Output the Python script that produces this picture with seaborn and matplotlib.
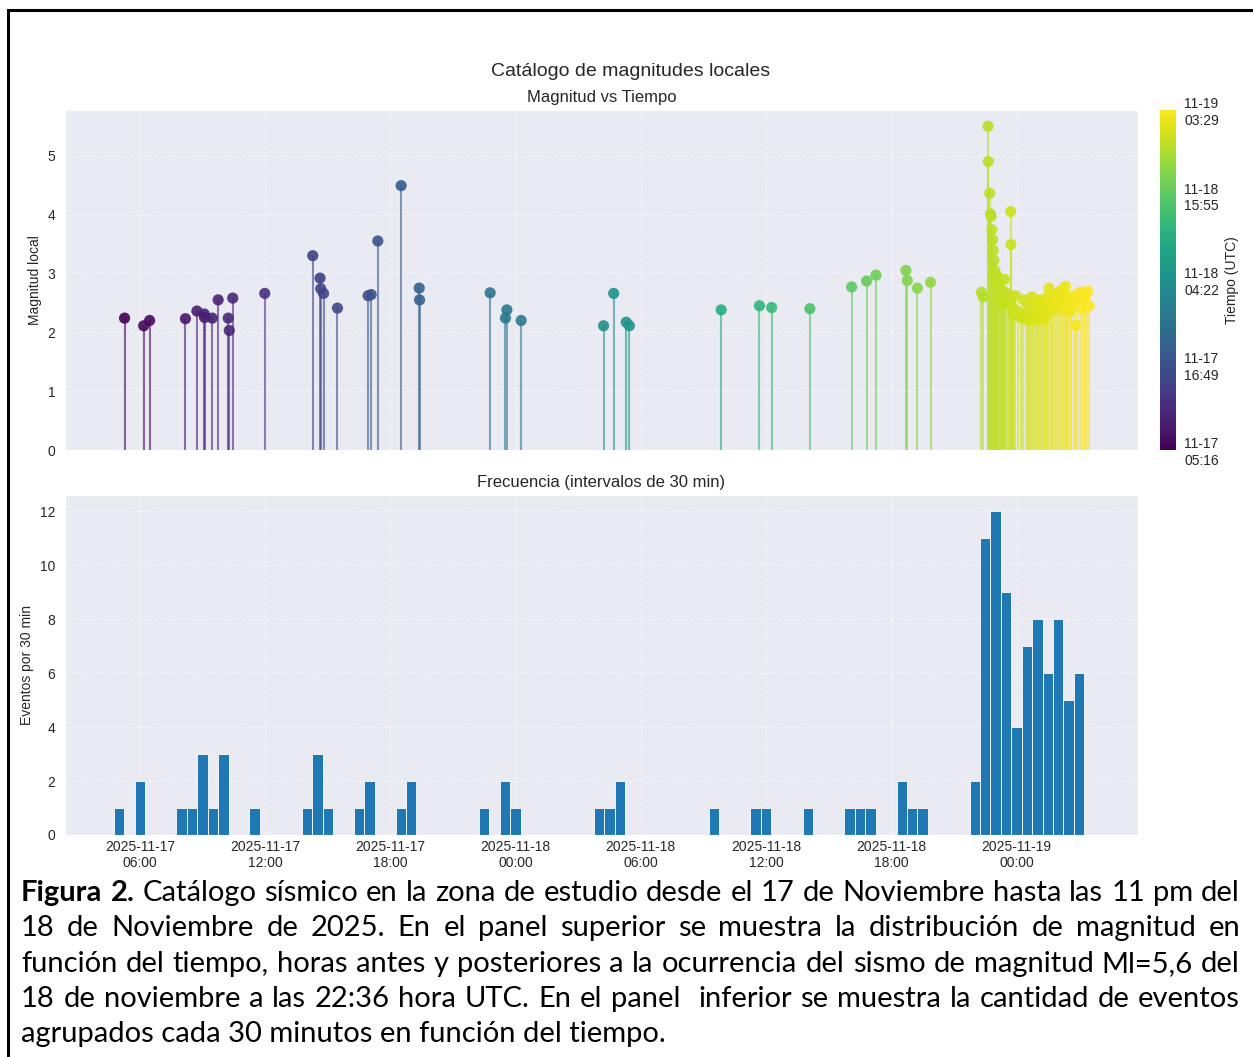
import numpy as np
import pandas as pd
import matplotlib
matplotlib.use('Agg')
import matplotlib.pyplot as plt
import matplotlib.dates as mdates
from matplotlib.patches import Rectangle
import seaborn as sns

# catalogo: hora (UTC) y magnitud local
event_time = [
    '2025-11-17 05:16', '2025-11-17 06:11', '2025-11-17 06:28', '2025-11-17 08:11',
    '2025-11-17 08:44', '2025-11-17 09:05', '2025-11-17 09:06', '2025-11-17 09:28',
    '2025-11-17 09:45', '2025-11-17 10:14', '2025-11-17 10:17', '2025-11-17 10:27',
    '2025-11-17 11:59', '2025-11-17 14:17', '2025-11-17 14:38', '2025-11-17 14:40',
    '2025-11-17 14:48', '2025-11-17 15:28', '2025-11-17 16:56', '2025-11-17 17:05',
    '2025-11-17 17:24', '2025-11-17 18:31', '2025-11-17 19:23', '2025-11-17 19:24',
    '2025-11-17 22:47', '2025-11-17 23:31', '2025-11-17 23:35', '2025-11-18 00:16',
    '2025-11-18 04:13', '2025-11-18 04:42', '2025-11-18 05:18', '2025-11-18 05:27',
    '2025-11-18 09:51', '2025-11-18 11:41', '2025-11-18 12:16', '2025-11-18 14:06',
    '2025-11-18 16:06', '2025-11-18 16:49', '2025-11-18 17:16', '2025-11-18 18:42',
    '2025-11-18 18:46', '2025-11-18 19:15', '2025-11-18 19:53', '2025-11-18 22:19',
    '2025-11-18 22:24', '2025-11-18 22:38', '2025-11-18 22:39', '2025-11-18 22:43',
    '2025-11-18 22:45', '2025-11-18 22:47', '2025-11-18 22:49', '2025-11-18 22:51',
    '2025-11-18 22:53', '2025-11-18 22:55', '2025-11-18 22:57', '2025-11-18 22:59',
    '2025-11-18 23:01', '2025-11-18 23:03', '2025-11-18 23:05', '2025-11-18 23:07',
    '2025-11-18 23:09', '2025-11-18 23:12', '2025-11-18 23:14', '2025-11-18 23:17',
    '2025-11-18 23:20', '2025-11-18 23:22', '2025-11-18 23:25', '2025-11-18 23:28',
    '2025-11-18 23:31', '2025-11-18 23:35', '2025-11-18 23:38', '2025-11-18 23:43',
    '2025-11-18 23:44', '2025-11-18 23:47', '2025-11-18 23:50', '2025-11-18 23:53',
    '2025-11-18 23:57',
    '2025-11-19 00:05', '2025-11-19 00:12', '2025-11-19 00:20', '2025-11-19 00:26',
    '2025-11-19 00:32', '2025-11-19 00:36', '2025-11-19 00:40', '2025-11-19 00:44',
    '2025-11-19 00:48', '2025-11-19 00:52', '2025-11-19 00:57', '2025-11-19 01:02',
    '2025-11-19 01:06', '2025-11-19 01:10', '2025-11-19 01:14', '2025-11-19 01:18',
    '2025-11-19 01:22', '2025-11-19 01:25', '2025-11-19 01:28', '2025-11-19 01:33',
    '2025-11-19 01:38', '2025-11-19 01:42', '2025-11-19 01:46', '2025-11-19 01:51',
    '2025-11-19 01:56', '2025-11-19 02:02', '2025-11-19 02:06', '2025-11-19 02:10',
    '2025-11-19 02:14', '2025-11-19 02:18', '2025-11-19 02:21', '2025-11-19 02:25',
    '2025-11-19 02:28', '2025-11-19 02:33', '2025-11-19 02:38', '2025-11-19 02:44',
    '2025-11-19 02:50', '2025-11-19 02:55', '2025-11-19 03:03', '2025-11-19 03:08',
    '2025-11-19 03:13', '2025-11-19 03:18', '2025-11-19 03:24', '2025-11-19 03:29',
]
magnitude = [
    2.24, 2.11, 2.20, 2.23, 2.36, 2.31, 2.25, 2.24, 2.55, 2.24, 2.03, 2.58,
    2.66, 3.30, 2.92, 2.74, 2.66, 2.41, 2.62, 2.64, 3.55, 4.49, 2.75, 2.55,
    2.67, 2.24, 2.38, 2.20, 2.11, 2.66, 2.17, 2.11, 2.38, 2.45, 2.42, 2.40,
    2.77, 2.87, 2.97, 3.05, 2.88, 2.75, 2.85, 2.68, 2.60,
    5.50, 4.90, 4.36, 4.01, 3.97, 3.74, 3.57, 3.39, 3.22, 3.05, 2.90,
    2.97, 2.97, 2.82, 2.85, 2.60, 2.55, 2.50, 2.62, 2.45, 2.70, 2.90, 2.58,
    2.60, 2.65, 2.55, 4.05, 3.49, 2.45, 2.40, 2.30, 2.62,
    2.35, 2.25, 2.55, 2.30,
    2.20, 2.45, 2.28, 2.60, 2.35, 2.20, 2.50,
    2.25, 2.55, 2.32, 2.42, 2.20, 2.48, 2.30, 2.60,
    2.75, 2.55, 2.50, 2.38, 2.62, 2.45,
    2.68, 2.55, 2.72, 2.40, 2.62, 2.78, 2.50, 2.58,
    2.35, 2.45, 2.62, 2.12, 2.55,
    2.68, 2.40, 2.55, 2.62, 2.70, 2.45,
]

caption_lines = [
    'Figura 2. Catálogo sísmico en la zona de estudio desde el 17 de Noviembre hasta las 11 pm del',
    '18 de Noviembre de 2025. En el panel superior se muestra la distribución de magnitud en',
    'función del tiempo, horas antes y posteriores a la ocurrencia del sismo de magnitud Ml=5,6 del',
    '18 de noviembre a las 22:36 hora UTC. En el panel  inferior se muestra la cantidad de eventos',
    'agrupados cada 30 minutos en función del tiempo.',
]

sns.set_style('darkgrid')
plt.rcParams['font.family'] = ['Liberation Sans', 'DejaVu Sans']

df = pd.DataFrame({'time': pd.to_datetime(event_time), 'mag': magnitude})
df['tnum'] = mdates.date2num(df['time'])
tmin, tmax = df['tnum'].min(), df['tnum'].max()
norm = plt.Normalize(tmin, tmax)
cmap = plt.get_cmap('viridis')

# eventos por intervalos de 30 min
counts = df.set_index('time')['mag'].resample('30min').count()
counts = counts[counts > 0]

W, H = 1253, 1057
fig = plt.figure(figsize=(W / 100, H / 100), dpi=100)
ax1 = fig.add_axes([65 / W, 1 - 450 / H, 1073 / W, 340 / H])
ax2 = fig.add_axes([65 / W, 1 - 835 / H, 1073 / W, 340 / H], sharex=ax1)
cax = fig.add_axes([1160 / W, 1 - 450 / H, 16 / W, 340 / H])

# panel superior: magnitud vs tiempo
ax1.vlines(df['time'], 0, df['mag'], colors=cmap(norm(df['tnum'])), lw=1.5, alpha=0.6, zorder=2)
sns.scatterplot(x=df['time'], y=df['mag'], hue=df['tnum'], palette='viridis', hue_norm=(tmin, tmax),
                s=65, alpha=0.9, edgecolor='none', legend=False, ax=ax1, zorder=3)
ax1.set_ylim(0, df['mag'].max() * 1.05)
ax1.set_ylabel('Magnitud local', fontsize=10)
ax1.set_xlabel('')
ax1.set_title('Magnitud vs Tiempo', fontsize=12)
ax1.tick_params(labelbottom=False, labelsize=10)

# panel inferior: frecuencia
ax2.bar(counts.index, counts.values, width=1 / 48, color='#1f77b4', edgecolor='white', linewidth=0.6, zorder=2)
ax2.set_ylabel('Eventos por 30 min', fontsize=10)
ax2.set_title('Frecuencia (intervalos de 30 min)', fontsize=12)
ax2.set_yticks(range(0, 13, 2))
ax2.xaxis.set_major_locator(mdates.HourLocator(byhour=[0, 6, 12, 18]))
ax2.xaxis.set_major_formatter(mdates.DateFormatter('%Y-%m-%d\n%H:%M'))
ax2.tick_params(labelsize=10)
ax2.tick_params(axis='x', pad=0)

for ax in (ax1, ax2):
    ax.grid(True, ls='--', lw=0.8, alpha=0.6)

sm = plt.cm.ScalarMappable(norm=norm, cmap=cmap)
cticks = np.linspace(tmin, tmax, 5)
cbar = fig.colorbar(sm, cax=cax, ticks=cticks)
cbar.ax.set_yticklabels([mdates.num2date(t).strftime('%m-%d\n%H:%M') for t in cticks], fontsize=10)
cbar.ax.tick_params(length=0, pad=6)
cbar.set_label('Tiempo (UTC)', fontsize=10)
cbar.outline.set_visible(False)

fig.text(630.5 / W, 1 - 71 / H, 'Catálogo de magnitudes locales', fontsize=14, ha='center', va='center', color='.15')

# marco
fig.add_artist(Rectangle((7.5 / W, -0.02), 1.05, 1.02 - 9.5 / H, transform=fig.transFigure,
                         fill=False, ec='black', lw=2.2, clip_on=False))

# leyenda justificada
fig.canvas.draw()
renderer = fig.canvas.get_renderer()
x0, x1 = 21, 1240
cap_size = 21
for i, line in enumerate(caption_lines):
    yb = 1 - (901 + 35.3 * i) / H
    if i == len(caption_lines) - 1:
        fig.text(x0 / W, yb, line, fontsize=cap_size, family='Lato', va='baseline', color='black')
        continue
    words = line.split(' ')
    arts, widths = [], []
    for j, w in enumerate(words):
        bold = (i == 0 and j < 2)
        t = fig.text(0, yb, w, fontsize=cap_size, family='Lato', va='baseline', color='black',
                     weight='bold' if bold else 'normal')
        arts.append(t)
        widths.append(t.get_window_extent(renderer).width if w else 0.0)
    gap = (x1 - x0 - sum(widths)) / (len(words) - 1)
    x = x0
    for t, wd in zip(arts, widths):
        t.set_x(x / W)
        x += wd + gap

fig.savefig('out.png', dpi=100)
